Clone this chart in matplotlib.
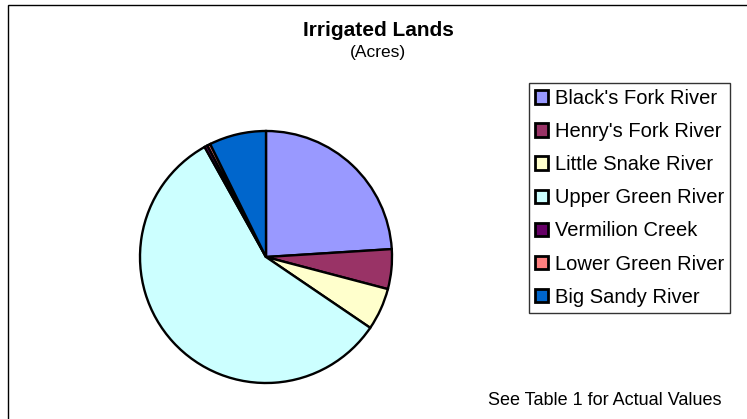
import matplotlib
matplotlib.use("Agg")
import matplotlib.pyplot as plt
from matplotlib.patches import Rectangle

# Share of irrigated acres per sub-basin (percent)
rivers = ["Black's Fork River", "Henry's Fork River", "Little Snake River",
          "Upper Green River", "Vermilion Creek", "Lower Green River",
          "Big Sandy River"]
acres_pct = [24.0, 5.1, 5.4, 57.4, 0.4, 0.4, 7.3]
colors = ["#9999FF", "#993366", "#FFFFCC", "#CCFFFF", "#660066", "#FF8080", "#0066CC"]

W, H = 747, 419
fig = plt.figure(figsize=(W / 100, H / 100), dpi=100)
plt.rcParams["font.family"] = ["Liberation Sans", "DejaVu Sans"]

# chart area border (runs off the right/bottom edge like the reference)
fig.add_artist(Rectangle((8 / W, -0.1), 1.2, 1 - 5 / H + 0.1,
                         transform=fig.transFigure, fill=False,
                         edgecolor="black", linewidth=1))

# pie: centre (266, 257) px, radius 126 px
cx, cy, r = 266, 257, 126
ax = fig.add_axes([(cx - r) / W, (H - cy - r) / H, 2 * r / W, 2 * r / H])
wedges, _ = ax.pie(acres_pct, colors=colors, startangle=90, counterclock=False,
                   wedgeprops=dict(edgecolor="black", linewidth=1.7))
ax.set_xlim(-1.0, 1.0)
ax.set_ylim(-1.0, 1.0)
ax.set_aspect("equal")
ax.axis("off")

fig.text(378 / W, 1 - 31 / H, "Irrigated Lands", ha="center", va="center",
         fontsize=15, fontweight="bold")
fig.text(378 / W, 1 - 53 / H, "(Acres)", ha="center", va="center", fontsize=12.5)

leg = fig.legend(wedges, rivers, loc="upper left",
                 bbox_to_anchor=(529 / W, 1 - 83 / H), borderaxespad=0,
                 fontsize=14.5, frameon=True, fancybox=False, edgecolor="black",
                 handlelength=0.65, handleheight=0.65, handletextpad=0.35,
                 labelspacing=0.7, borderpad=0.3)
leg.get_frame().set_linewidth(1)
for h in leg.legend_handles:
    h.set_linewidth(2)

fig.text(722 / W, 1 - 400 / H, "See Table 1 for Actual Values", ha="right",
         va="center", fontsize=13)

fig.savefig("out.png", dpi=100)
